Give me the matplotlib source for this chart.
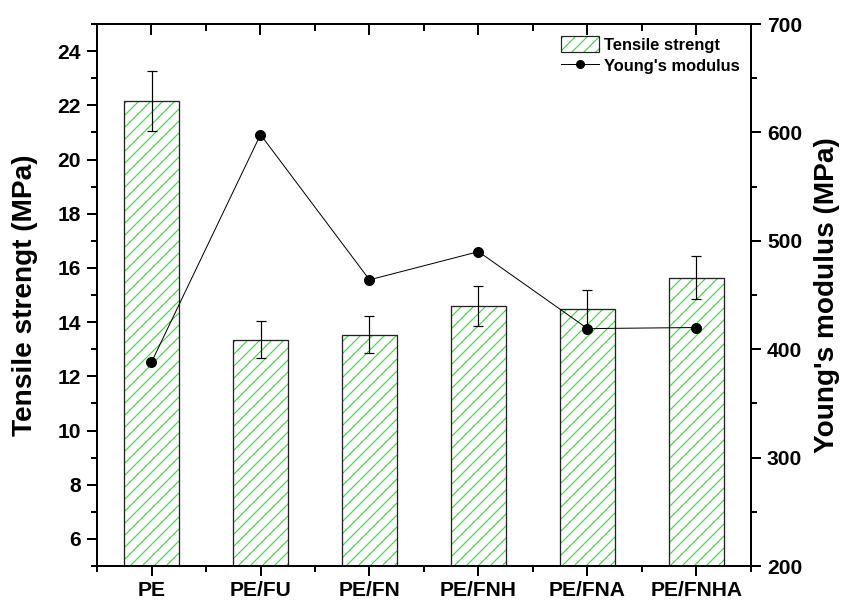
import matplotlib
matplotlib.use("Agg")
import matplotlib.pyplot as plt
from matplotlib.patches import Patch
from matplotlib.lines import Line2D

# sample names and measured values
samples = ["PE", "PE/FU", "PE/FN", "PE/FNH", "PE/FNA", "PE/FNHA"]
tensile = [22.17, 13.35, 13.53, 14.60, 14.48, 15.64]
tensile_err = [1.10, 0.68, 0.68, 0.73, 0.72, 0.79]
young = [388, 598, 464, 490, 419, 420]

plt.rcParams["font.family"] = ["Liberation Sans", "DejaVu Sans"]
plt.rcParams["hatch.color"] = "#1ee81e"
plt.rcParams["hatch.linewidth"] = 1.1

fig = plt.figure(figsize=(841 / 72, 605 / 72), dpi=72)
ax1 = fig.add_axes([97 / 841, 39 / 605, 654 / 841, 542 / 605])
ax2 = ax1.twinx()

x = list(range(len(samples)))

# hatched fill first, then black outline on top
ax1.bar(x, tensile, width=0.5, hatch="//", color="white", edgecolor=None, linewidth=0, zorder=2)
ax1.bar(x, tensile, width=0.5, fill=False, edgecolor="#222222", linewidth=1.3, zorder=3)
ax1.errorbar(x, tensile, yerr=tensile_err, fmt="none", ecolor="black", elinewidth=1.2,
             capsize=5, capthick=1.2, zorder=4)

ax2.plot(x, young, color="black", lw=1.0, marker="o", ms=10, zorder=5)

ax1.set_xlim(-0.5, 5.5)
ax1.set_ylim(5, 25)
ax2.set_ylim(200, 700)

ax1.set_xticks(x)
ax1.set_xticklabels(samples)
ax1.set_xticks([i + 0.5 for i in range(-1, 6)], minor=True)
ax1.set_yticks(range(6, 25, 2))
ax1.set_yticks(range(5, 26, 2), minor=True)
ax2.set_yticks(range(200, 701, 100))
ax2.set_yticks(range(250, 700, 100), minor=True)

for ax in (ax1, ax2):
    for sp in ax.spines.values():
        sp.set_linewidth(2)

ax1.tick_params(axis="both", which="major", length=10, width=2, direction="out",
                labelsize=21, pad=6)
ax1.tick_params(axis="both", which="minor", length=6, width=2, direction="out")
ax1.tick_params(axis="x", pad=5)
ax2.tick_params(axis="y", which="major", length=10, width=2, direction="out",
                labelsize=21, pad=6)
ax2.tick_params(axis="y", which="minor", length=6, width=2, direction="out")

for lab in ax1.get_xticklabels() + ax1.get_yticklabels() + ax2.get_yticklabels():
    lab.set_fontweight("bold")

# top axis: inward ticks, no labels
top = ax1.secondary_xaxis("top")
top.set_xticks(x)
top.set_xticks([i + 0.5 for i in range(-1, 6)], minor=True)
top.tick_params(which="major", direction="in", length=11, width=2, labeltop=False)
top.tick_params(which="minor", direction="in", length=7, width=2)
top.spines["top"].set_linewidth(2)

ax1.set_ylabel("Tensile strengt (MPa)", fontsize=28, fontweight="bold", labelpad=19)
ax2.set_ylabel("Young's modulus (MPa)", fontsize=28, fontweight="bold", labelpad=12)

bar_handle = (Patch(facecolor="white", hatch="//", edgecolor=None, linewidth=0),
              Patch(fill=False, edgecolor="#222222", linewidth=1.2))
line_handle = Line2D([], [], color="black", lw=1.0, marker="o", ms=8)
ax2.legend([bar_handle, line_handle], ["Tensile strengt", "Young's modulus"],
           loc="upper right", bbox_to_anchor=(1.0, 1.0), frameon=False,
           prop={"size": 16.5, "weight": "bold"}, handlelength=2.3, handleheight=1.2,
           handletextpad=0.3, labelspacing=0.25, borderaxespad=0.3)

fig.savefig("out.png", dpi=72)
